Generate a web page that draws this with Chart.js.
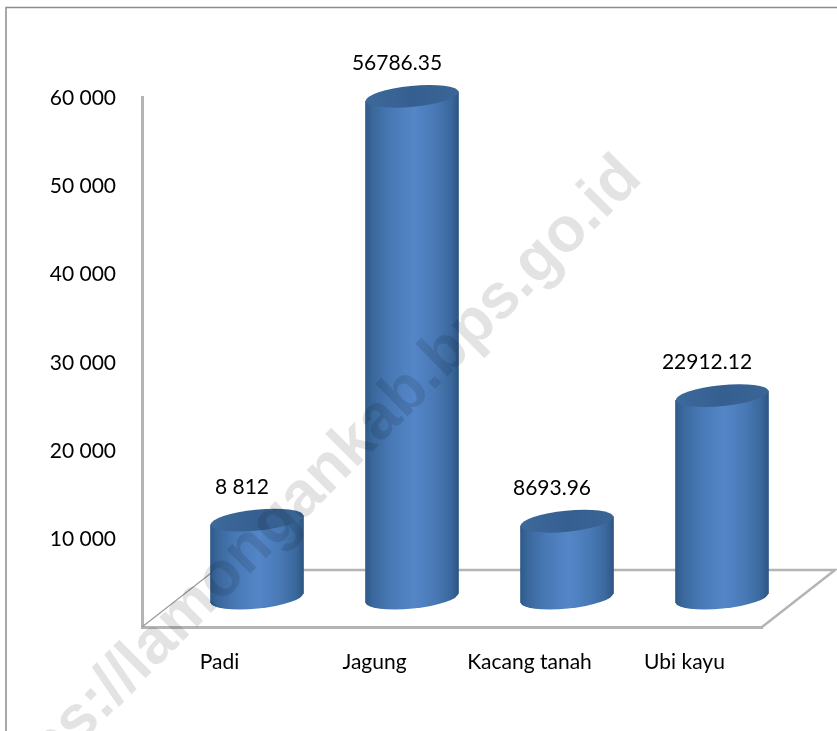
<!DOCTYPE html>
<html><head><meta charset="utf-8">
<style>html,body{margin:0;padding:0;background:#fff}#w{position:relative;width:837px;height:731px}canvas{display:block}</style>
<script src="https://cdn.jsdelivr.net/npm/chart.js@4"></script>
</head><body><div id="w"><canvas id="c" width="837" height="731"></canvas></div>
<script>
const categories = ['Padi','Jagung','Kacang tanah','Ubi kayu'];
const values = [8812,56786.35,8693.96,22912.12];
const valueLabels = ['8 812','56786.35','8693.96','22912.12'];
const yTickLabels = {10000:'10 000',20000:'20 000',30000:'30 000',40000:'40 000',50000:'50 000',60000:'60 000'};
const watermark = 'https://lamongankab.bps.go.id';

const FONT = '21px Lato, sans-serif';
const DX = 37.5, DY = -29, RY = 10.5, TILT = -0.1, SHEAR = -0.1;
const AXIS = '#b4b4b4';

function sideGradient(ctx, cx, w){
  const g = ctx.createLinearGradient(cx-w/2,0,cx+w/2,0);
  g.addColorStop(0,'#2f5a8a'); g.addColorStop(.08,'#3a689c');
  g.addColorStop(.26,'#4878b4'); g.addColorStop(.52,'#5486c8');
  g.addColorStop(.76,'#4878b4'); g.addColorStop(.92,'#3a689c');
  g.addColorStop(1,'#2d5583');
  return g;
}
const baseDraw = Chart.BarElement.prototype.draw;
Chart.BarElement.prototype.draw = function(ctx){
  const {x,y,base,width} = this.getProps(['x','y','base','width'],true);
  ctx.save();
  ctx.translate(DX,DY);
  ctx.fillStyle = sideGradient(ctx,x,width);
  ctx.beginPath(); ctx.ellipse(x,base,width/2,RY,TILT,0,Math.PI*2); ctx.fill();
  ctx.save();
  ctx.transform(1,SHEAR,0,1,0,-SHEAR*x);
  baseDraw.call(this,ctx);
  ctx.restore();
  const cap = ctx.createLinearGradient(x-width/2,0,x+width/2,0);
  cap.addColorStop(0,'#3d6a9b'); cap.addColorStop(.5,'#355f90'); cap.addColorStop(1,'#3a6595');
  ctx.fillStyle = cap;
  ctx.beginPath(); ctx.ellipse(x,y,width/2,RY,TILT,0,Math.PI*2); ctx.fill();
  ctx.restore();
};

const floorPlugin = {
  id:'floor',
  beforeDatasetsDraw(chart){
    const {ctx,chartArea:a} = chart;
    const fx=73, fy=-57;
    ctx.save();
    ctx.strokeStyle='#9a9a9a'; ctx.lineWidth=1.2;
    ctx.beginPath();
    ctx.moveTo(a.left,a.bottom); ctx.lineTo(a.left+fx,a.bottom+fy);
    ctx.stroke();
    ctx.strokeStyle=AXIS; ctx.lineWidth=2.5;
    ctx.beginPath();
    ctx.moveTo(a.left+fx,a.bottom+fy);
    ctx.lineTo(a.right+fx,a.bottom+fy); ctx.lineTo(a.right,a.bottom);
    ctx.stroke();
    ctx.restore();
  }
};
const labelPlugin = {
  id:'valueLabels',
  afterDatasetsDraw(chart){
    const {ctx} = chart;
    ctx.save();
    ctx.font = FONT; ctx.fillStyle='#000'; ctx.textAlign='center'; ctx.textBaseline='middle';
    chart.getDatasetMeta(0).data.forEach((b,i)=>{
      ctx.fillText(valueLabels[i], b.x+DX-15, b.y+DY-33);
    });
    ctx.restore();
  }
};
const framePlugin = {
  id:'frame',
  beforeDraw(chart){
    const {ctx,width,height}=chart;
    ctx.save(); ctx.fillStyle='#fff'; ctx.fillRect(0,0,width,height);
    ctx.strokeStyle='#8c8c8c'; ctx.lineWidth=1.5;
    ctx.beginPath(); ctx.moveTo(6,height); ctx.lineTo(6,7.5); ctx.lineTo(width,7.5); ctx.stroke();
    ctx.restore();
  },
  afterDraw(chart){
    const {ctx}=chart;
    ctx.save();
    ctx.letterSpacing='0px';
    ctx.translate(644,180); ctx.rotate(-Math.PI/4);
    ctx.font='bold 63.5px "Liberation Sans", sans-serif';
    ctx.fillStyle='rgba(0,0,0,0.11)'; ctx.textAlign='right'; ctx.textBaseline='alphabetic';
    ctx.fillText(watermark,0,0);
    ctx.restore();
  }
};
const canvas = document.getElementById('c');
canvas.getContext('2d').letterSpacing = '0.5px';
new Chart(canvas,{
  type:'bar',
  data:{labels:categories,datasets:[{data:values,barThickness:93,clip:false,
    backgroundColor(c){
      const i=c.dataIndex, px=(i===undefined)?NaN:c.chart.scales.x.getPixelForValue(i);
      if(!Number.isFinite(px)) return '#4575b2';
      return sideGradient(c.chart.ctx,px,93);
    }}]},
  options:{
    responsive:false,animation:false,devicePixelRatio:1,
    layout:{padding:{left:0,right:75,top:97,bottom:0}},
    plugins:{legend:{display:false},title:{display:false},tooltip:{enabled:false}},
    scales:{
      x:{grid:{display:false},border:{display:true,color:AXIS,width:3},
        afterFit(s){s.height=104;},
        ticks:{color:'#000',font:{family:'Lato, sans-serif',size:21},padding:15,maxRotation:0,autoSkip:false}},
      y:{min:0,max:60000,grid:{display:false},border:{display:true,color:AXIS,width:3},
        afterFit(s){s.width=142;},
        ticks:{stepSize:10000,color:'#000',font:{family:'Lato, sans-serif',size:21},padding:18,labelOffset:1,
          callback(v){return yTickLabels[v]||'';}}}
    }
  },
  plugins:[framePlugin,floorPlugin,labelPlugin]
});
</script></body></html>
